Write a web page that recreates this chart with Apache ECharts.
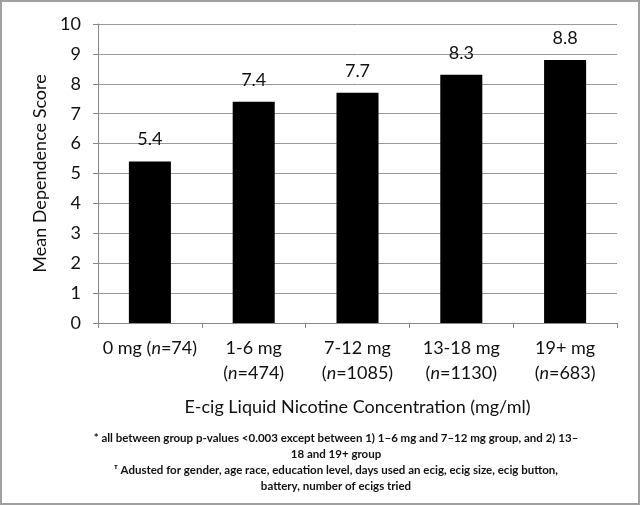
<!DOCTYPE html>
<html><head><meta charset="utf-8">
<script src="https://cdn.jsdelivr.net/npm/echarts@6/dist/echarts.min.js"></script>
<style>html,body{margin:0;padding:0;background:#fff}#c{width:640px;height:505px;box-sizing:border-box;border:2px solid #a0a0a0}</style>
</head><body><div id="c"></div>
<script>
var categories = ['0 mg', '1-6 mg', '7-12 mg', '13-18 mg', '19+ mg'];
var sampleSizes = ['74', '474', '1085', '1130', '683'];
var values = [5.4, 7.4, 7.7, 8.3, 8.8];
var yTicks = [0, 10, 1];
var xTitle = 'E-cig Liquid Nicotine Concentration (mg/ml)';
var yTitle = 'Mean Dependence Score';
var notes = [
  '* all between group p-values <0.003 except between 1) 1\u20136 mg and 7\u201312 mg group, and 2) 13\u2013',
  '18 and 19+ group',
  '\u1D40 Adusted for gender, age race, education level, days used an ecig, ecig size, ecig button,',
  'battery, number of ecigs tried'
];
var FONT = 'Lato, "Open Sans", sans-serif';
var chart = echarts.init(document.getElementById('c'));
var noteY = [438, 454, 470, 486];
chart.setOption({
  animation: false,
  grid: {left: 96, right: 21, top: 22, bottom: 180, containLabel: false},
  xAxis: {
    type: 'category', data: categories,
    axisLine: {lineStyle: {color: '#888', width: 1}},
    axisTick: {show: true, length: 5, lineStyle: {color: '#888'}},
    axisLabel: {
      color: '#111', fontFamily: FONT, fontSize: 18, margin: 13, interval: 0,
      formatter: function (v, i) {
        if (i === 0) return v + ' ({i|n}=' + sampleSizes[i] + ')';
        return v + '\n({i|n}=' + sampleSizes[i] + ')';
      },
      lineHeight: 25,
      rich: {i: {fontStyle: 'italic', fontFamily: FONT, fontSize: 18, color: '#111', lineHeight: 25}}
    },
    name: xTitle, nameLocation: 'middle', nameGap: 75,
    nameTextStyle: {color: '#111', fontFamily: FONT, fontSize: 18}
  },
  yAxis: {
    type: 'value', min: yTicks[0], max: yTicks[1], interval: yTicks[2],
    axisLine: {show: true, lineStyle: {color: '#888'}},
    axisTick: {show: true, length: 5, lineStyle: {color: '#888'}},
    splitLine: {lineStyle: {color: '#999', width: 1}},
    axisLabel: {color: '#111', fontFamily: FONT, fontSize: 18, margin: 17},
    name: yTitle, nameLocation: 'middle', nameGap: 48,
    nameTextStyle: {color: '#111', fontFamily: FONT, fontSize: 18}
  },
  series: [{
    type: 'bar', data: values, barWidth: '40.5%',
    itemStyle: {color: '#000'},
    label: {show: true, position: 'top', distance: 13, color: '#111', fontFamily: FONT, fontSize: 18,
      formatter: function (p) { return p.value.toFixed(1); }}
  }],
  graphic: notes.map(function (t, i) {
    return {type: 'text', x: 334, y: noteY[i] - 2,
      style: {text: t, fill: '#111', align: 'center', verticalAlign: 'middle',
        font: 'bold 11.5px Lato, "Open Sans", sans-serif'}};
  })
});
</script></body></html>
